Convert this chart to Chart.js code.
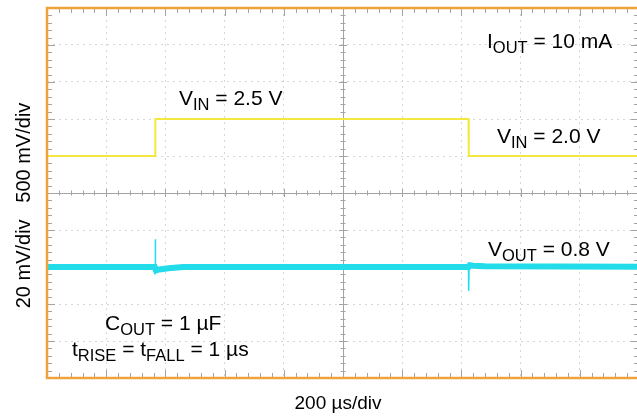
<!DOCTYPE html>
<html>
<head>
<meta charset="utf-8">
<script src="https://cdn.jsdelivr.net/npm/chart.js@4/dist/chart.umd.min.js"></script>
<style>
html,body{margin:0;padding:0;background:#fff;overflow:hidden;}
#wrap{position:relative;width:645px;height:417px;}
</style>
</head>
<body>
<div id="wrap"><canvas id="c" width="645" height="417"></canvas></div>
<script>
// ---- data (time in µs, VIN in V, VOUT deviation from 0.8 V in mV) ----
const vinTime   = [0, 365, 366, 1424, 1425, 2000];
const vinVolts  = [2.0, 2.0, 2.5, 2.5, 2.0, 2.0];

const voutTime  = [0, 364, 368, 380, 410, 460, 1424, 1428, 1440, 1480, 2000];
const voutDev   = [0, 0, -1.8, -1.3, -0.7, 0, 0, 1.0, 0.7, 0.4, 0.2];

const spikeTime = [360, 365, 365.5, 367, 372, 1418, 1424, 1424.5, 1426, 1432];
const spikeDev  = [0, 0, 15, -3, -1, 0, 0, -13, 1.5, 0.8];

const xTitle    = "200 \u00b5s/div";
const yTitle    = "20 mV/div   500 mV/div";

const pts = (xs, ys) => xs.map((x, i) => ({x: x, y: ys[i]}));

const FONT = '"Liberation Sans", Arial, Helvetica, sans-serif';

// annotations: [parts], each part [text, isSub]; anchor in pixels (left, baseline)
const notes = [
  {x: 487, y: 48, parts: [["I", 0], ["OUT", 1], [" = 10 mA", 0]]},
  {x: 179, y: 105, parts: [["V", 0], ["IN", 1], [" = 2.5 V", 0]]},
  {x: 497, y: 143, parts: [["V", 0], ["IN", 1], [" = 2.0 V", 0]]},
  {x: 488, y: 256, parts: [["V", 0], ["OUT", 1], [" = 0.8 V", 0]]},
  {x: 105, y: 330, parts: [["C", 0], ["OUT", 1], [" = 1 \u00b5F", 0]]},
  {x: 72,  y: 356, parts: [["t", 0], ["RISE", 1], [" = t", 0], ["FALL", 1], [" = 1 \u00b5s", 0]]}
];

const scopePlugin = {
  id: 'scope',
  beforeDatasetsDraw(chart) {
    const ctx = chart.ctx, a = chart.chartArea;
    const xs = chart.scales.x, ys = chart.scales.y;
    const cx = xs.getPixelForValue(1000), cy = ys.getPixelForValue(0);
    ctx.save();
    ctx.strokeStyle = '#a3a3a3';
    ctx.lineWidth = 1;
    ctx.beginPath();
    ctx.moveTo(a.left, Math.round(cy) + 0.5); ctx.lineTo(a.right, Math.round(cy) + 0.5);
    ctx.moveTo(Math.round(cx) + 0.5, a.top); ctx.lineTo(Math.round(cx) + 0.5, a.bottom);
    for (let t = 0; t <= 2000; t += 40) {
      const px = Math.round(xs.getPixelForValue(t)) + 0.5;
      const major = (t % 200 === 0);
      const h = major ? 4 : 2.5;
      ctx.moveTo(px, cy - h); ctx.lineTo(px, cy + h);
      const b = major ? 8 : 5;
      ctx.moveTo(px, a.top); ctx.lineTo(px, a.top + b);
      ctx.moveTo(px, a.bottom); ctx.lineTo(px, a.bottom - b);
    }
    for (let v = -5; v <= 5.001; v += 0.2) {
      const py = Math.round(ys.getPixelForValue(v)) + 0.5;
      const major = Math.abs(v - Math.round(v)) < 0.01;
      const h = major ? 4 : 2.5;
      ctx.moveTo(cx - h, py); ctx.lineTo(cx + h, py);
      const b = major ? 8 : 5;
      ctx.moveTo(a.left, py); ctx.lineTo(a.left + b, py);
      ctx.moveTo(a.right, py); ctx.lineTo(a.right - b, py);
    }
    ctx.stroke();
    ctx.restore();
  },
  afterDatasetsDraw(chart) {
    const ctx = chart.ctx, a = chart.chartArea;
    ctx.save();
    ctx.strokeStyle = '#f0a23a';
    ctx.lineWidth = 2.5;
    ctx.strokeRect(a.left, a.top, a.right - a.left, a.bottom - a.top);
    ctx.fillStyle = '#000';
    ctx.textBaseline = 'alphabetic';
    ctx.textAlign = 'left';
    for (const n of notes) {
      let x = n.x;
      for (const [txt, sub] of n.parts) {
        ctx.font = (sub ? '16.5px ' : '21px ') + FONT;
        ctx.fillText(txt, x, n.y + (sub ? 4.5 : 0));
        x += ctx.measureText(txt).width;
      }
    }
    ctx.font = '19px ' + FONT;
    ctx.textAlign = 'center';
    ctx.fillText(xTitle, 338, 409);
    ctx.font = '20px ' + FONT;
    ctx.save();
    ctx.translate(30, 205.5);
    ctx.rotate(-Math.PI / 2);
    ctx.fillText(yTitle, 0, 0);
    ctx.restore();
    ctx.restore();
  }
};

const zeroW = s => { s.width = 0; };
const zeroH = s => { s.height = 0; };

new Chart(document.getElementById('c'), {
  type: 'line',
  data: {
    datasets: [
      {data: pts(vinTime, vinVolts), yAxisID: 'yV', borderColor: '#f4e840', borderWidth: 2,
       pointRadius: 0, tension: 0, fill: false},
      {data: pts(voutTime, voutDev), yAxisID: 'yO', borderColor: '#22dcea', borderWidth: 6,
       pointRadius: 0, tension: 0, fill: false},
      {data: pts(spikeTime, spikeDev), yAxisID: 'yO', borderColor: '#22dcea', borderWidth: 1.5,
       pointRadius: 0, tension: 0, fill: false}
    ]
  },
  options: {
    responsive: false,
    animation: false,
    events: [],
    layout: {padding: {left: 47, top: 8, right: 6, bottom: 39}},
    plugins: {legend: {display: false}, tooltip: {enabled: false}},
    scales: {
      x: {type: 'linear', min: 0, max: 2000, afterFit: zeroH,
          ticks: {display: false, stepSize: 200}, grid: {color: '#d6d6d6', drawTicks: false, lineWidth: 1},
          border: {display: false, dash: [2, 4]}},
      y: {type: 'linear', min: -5, max: 5, afterFit: zeroW,
          ticks: {display: false, stepSize: 1}, grid: {color: '#d6d6d6', drawTicks: false, lineWidth: 1},
          border: {display: false, dash: [2, 4]}},
      yV: {type: 'linear', display: false, min: -1.0, max: 4.0},
      yO: {type: 'linear', display: false, min: -60, max: 140}
    }
  },
  plugins: [scopePlugin]
});
</script>
</body>
</html>
